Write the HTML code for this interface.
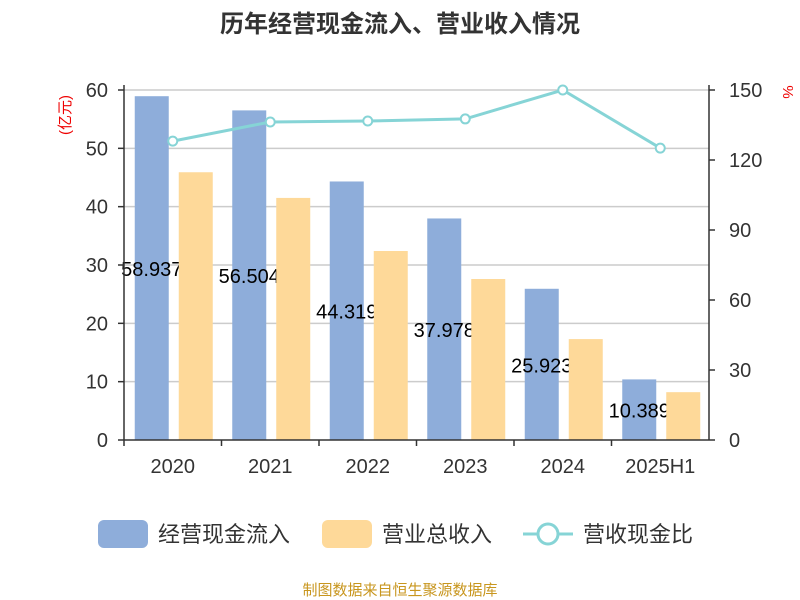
<!DOCTYPE html>
<html><head><meta charset="utf-8"><style>
body{margin:0;background:#fff}
svg{display:block;font-family:"Liberation Sans","Noto Sans CJK SC",sans-serif}
</style></head><body>
<svg id="c" width="800" height="600" viewBox="0 0 800 600">
<text x="400" y="32" text-anchor="middle" font-size="24" font-weight="bold" fill="#333">历年经营现金流入、营业收入情况</text>
<text transform="translate(70,115) rotate(-90)" text-anchor="middle" font-size="15" fill="#e00">(亿元)</text>
<text transform="translate(783,92) rotate(90)" text-anchor="middle" font-size="15" fill="#e00">%</text>
<g id="grid"></g><g id="bars1"></g><g id="labels"></g><g id="bars2"></g><g id="axes"></g><g id="line"></g>
<g>
<rect x="98" y="520" width="50" height="28" rx="6" fill="#8eadda"/>
<text x="158" y="542" font-size="22" fill="#333">经营现金流入</text>
<rect x="322" y="520" width="50" height="28" rx="6" fill="#fed999"/>
<text x="382" y="542" font-size="22" fill="#333">营业总收入</text>
<line x1="523" y1="534" x2="573" y2="534" stroke="#86d4d6" stroke-width="3"/>
<circle cx="548" cy="534" r="10" fill="#fff" stroke="#86d4d6" stroke-width="3"/>
<text x="583" y="542" font-size="22" fill="#333">营收现金比</text>
</g>
<text x="400" y="595" text-anchor="middle" font-size="15" fill="#c8961e">制图数据来自恒生聚源数据库</text>
</svg>
<script>
const categories=["2020","2021","2022","2023","2024","2025H1"];
const cashInflow=[58.937,56.504,44.319,37.978,25.923,10.389];
const revenue=[45.9,41.5,32.4,27.6,17.3,8.2];
const ratio=[128.1,136.3,136.7,137.6,150,125.1];
const leftTicks=[0,10,20,30,40,50,60];
const rightTicks=[0,30,60,90,120,150];
const NS="http://www.w3.org/2000/svg";
const X0=124,X1=709,Y0=440,Y1=90;
const band=(X1-X0)/categories.length;
const yL=v=>Y0-(v/60)*(Y0-Y1);
const yR=v=>Y0-(v/150)*(Y0-Y1);
const xC=i=>X0+band*(i+0.5);
function mk(p,t,a){const e=document.createElementNS(NS,t);for(const k in a)e.setAttribute(k,a[k]);document.getElementById(p).appendChild(e);return e;}
leftTicks.forEach(v=>{
 if(v>0){const g=mk('grid','line',{x1:X0,x2:X1,y1:yL(v),y2:yL(v),stroke:'#ccc','stroke-width':1.5});
 
 }
 const t=mk('axes','text',{x:X0-16,y:yL(v)+7,'text-anchor':'end','font-size':20,fill:'#333'});t.textContent=v;
 
 
 const k=mk('axes','line',{x1:X0-6,x2:X0,y1:yL(v),y2:yL(v),stroke:'#333','stroke-width':1.5});
 
 
});
rightTicks.forEach(v=>{
 const t=mk('axes','text',{x:X1+20,y:yR(v)+7,'font-size':20,fill:'#333'});t.textContent=v;
 
 
 const k=mk('axes','line',{x1:X1,x2:X1+6,y1:yR(v),y2:yR(v),stroke:'#333','stroke-width':1.5});
 
 
});
let a=mk('axes','line',{x1:X0,x2:X0,y1:Y1-5,y2:Y0,stroke:'#333','stroke-width':1.5});


a=mk('axes','line',{x1:X1,x2:X1,y1:Y1-5,y2:Y0,stroke:'#333','stroke-width':1.5});


a=mk('axes','line',{x1:X0,x2:X1,y1:Y0,y2:Y0,stroke:'#333','stroke-width':1.5});


categories.forEach((c,i)=>{
 const k=mk('axes','line',{x1:X0+band*i,x2:X0+band*i,y1:Y0,y2:Y0+6,stroke:'#333','stroke-width':1.5});
 
 
 const t=mk('axes','text',{x:xC(i),y:Y0+33,'text-anchor':'middle','font-size':20,fill:'#333'});t.textContent=c;
 
 
 const b1=mk('bars1','rect',{x:xC(i)-38,y:yL(cashInflow[i]),width:34,height:Y0-yL(cashInflow[i]),fill:'#8eadda'});
 
 
 const l=mk('labels','text',{x:xC(i)-21,y:(yL(cashInflow[i])+Y0)/2+8,'text-anchor':'middle','font-size':20,fill:'#000'});l.textContent=cashInflow[i].toFixed(3);
 
 
 const b2=mk('bars2','rect',{x:xC(i)+6,y:yL(revenue[i]),width:34,height:Y0-yL(revenue[i]),fill:'#fed999'});
 
 
});
const pl=mk('line','polyline',{points:ratio.map((v,i)=>xC(i)+','+yR(v)).join(' '),fill:'none',stroke:'#86d4d6','stroke-width':3});


ratio.forEach((v,i)=>{
 const p=mk('line','circle',{cx:xC(i),cy:yR(v),r:4.5,fill:'#fff',stroke:'#86d4d6','stroke-width':2});
 
 
});
</script>
</body></html>
